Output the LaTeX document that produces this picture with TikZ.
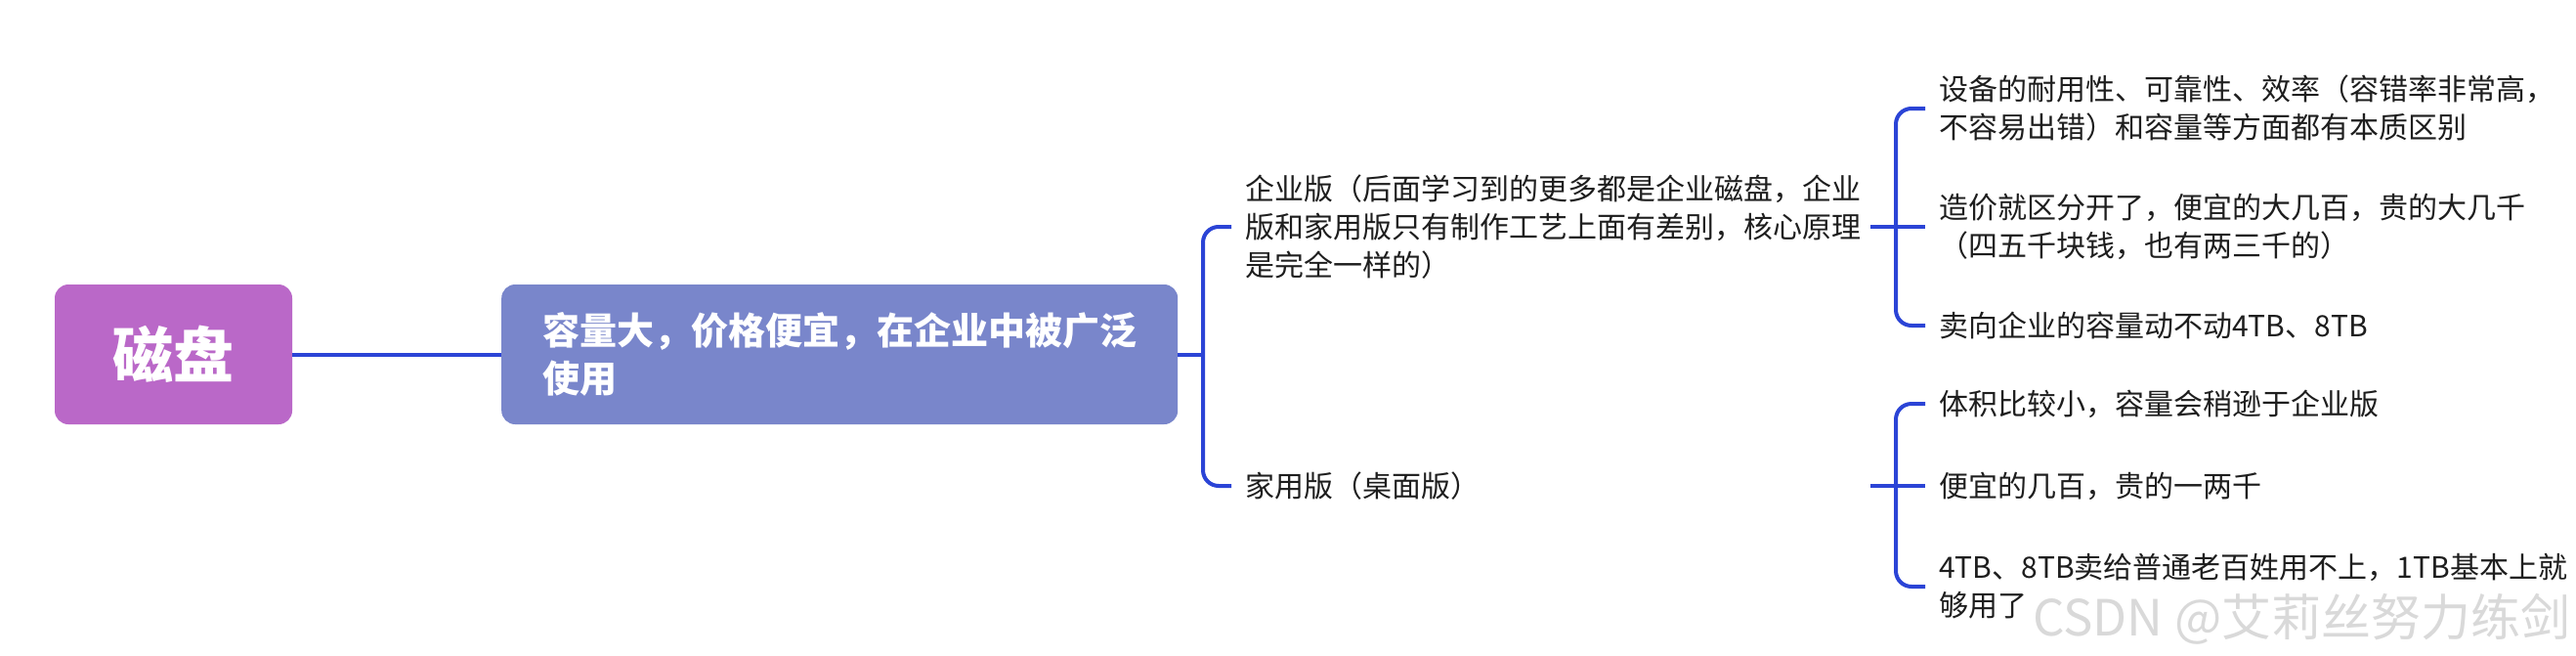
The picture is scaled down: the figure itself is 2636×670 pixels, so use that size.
\documentclass[tikz,border=0pt]{standalone}
\usepackage{fontspec}
\setmainfont{Noto Sans CJK SC}
\definecolor{rootpurple}{HTML}{BA68C8}
\definecolor{mainblue}{HTML}{7986CB}
\definecolor{lineblue}{HTML}{2B44D6}
\definecolor{textdark}{HTML}{1E1E1E}
\begin{document}
\begin{tikzpicture}[x=1pt,y=-1pt,
  conn/.style={draw=lineblue,line width=4pt},
  brace/.style={conn,rounded corners=16pt},
  rootbox/.style={fill=rootpurple,rounded corners=14pt,text=white,
    minimum width=243pt,minimum height=143pt,inner sep=0pt,
    font=\bfseries\fontsize{62}{62}\selectfont},
  mainbox/.style={fill=mainblue,rounded corners=14pt,text=white,align=left,
    inner xsep=42pt,inner ysep=0pt,minimum height=143pt,
    font=\bfseries\fontsize{38}{49}\selectfont},
  leaf/.style={anchor=west,inner xsep=14pt,inner ysep=0pt,align=left,
    text=textdark,font=\fontsize{30}{39}\selectfont}]
\useasboundingbox (0,0) rectangle (2636,670);
\fill[white] (0,0) rectangle (2636,670);

\node[rootbox] (root) at (177.5,362.5) {磁盘};
\node[mainbox,anchor=west] (main) at (513,362.5) {容量大，价格便宜，在企业中被广泛\\使用};

\node[leaf] (ent) at (1260,232) {企业版（后面学习到的更多都是企业磁盘，企业\\版和家用版只有制作工艺上面有差别，核心原理\\是完全一样的）};
\node[leaf] (home) at (1260,497) {家用版（桌面版）};

\node[leaf] (t1) at (1970,111) {设备的耐用性、可靠性、效率（容错率非常高，\\不容易出错）和容量等方面都有本质区别};
\node[leaf] (t2) at (1970,232) {造价就区分开了，便宜的大几百，贵的大几千\\（四五千块钱，也有两三千的）};
\node[leaf] (t3) at (1970,333) {卖向企业的容量动不动4TB、8TB};

\node[leaf] (b1) at (1970,413) {体积比较小，容量会稍逊于企业版};
\node[leaf] (b2) at (1970,497) {便宜的几百，贵的一两千};
\node[leaf] (b3) at (1970,600) {4TB、8TB卖给普通老百姓用不上，1TB基本上就\\够用了};

\coordinate (s1) at (1231,362.5);
\coordinate (s2) at (1940,232);
\coordinate (s3) at (1940,497);
\coordinate (e1) at (1914,232);
\coordinate (e2) at (1914,497);

\draw[conn] (root.east) -- (main.west);
\draw[conn] (main.east) -- (s1);
\draw[brace] (ent.west) -| (s1) |- (home.west);

\draw[conn] (e1) -- (t2.west);
\draw[brace] (t1.west) -| (s2) |- (t3.west);

\draw[conn] (e2) -- (b2.west);
\draw[brace] (b1.west) -| (s3) |- (b3.west);

\node[anchor=west,inner sep=0pt,text=gray!30,font=\fontsize{51}{51}\selectfont] (wm) at (2080,633) {CSDN @艾莉丝努力练剑};
\end{tikzpicture}
\end{document}
